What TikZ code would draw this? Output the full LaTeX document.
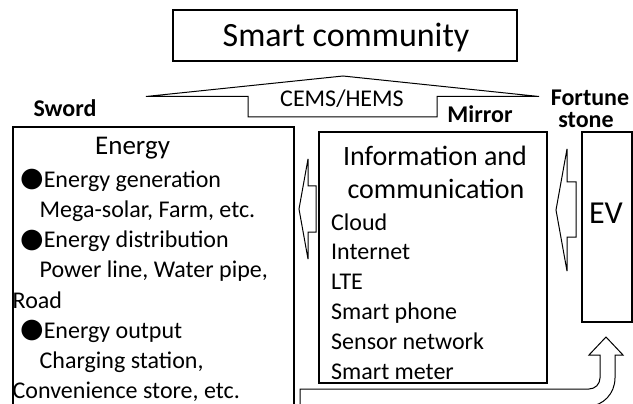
\documentclass[tikz,border=0pt]{standalone}
\usepackage{fontspec}
\setmainfont{Carlito}
\newfontfamily\bulfont{DejaVu Sans}
\newcommand{\bul}{{\bulfont\fontsize{27}{27}\selectfont\raisebox{0.5pt}{●}}}
\begin{document}
\begin{tikzpicture}[x=1pt,y=-1pt,
  box/.style={draw, line width=1.3pt, inner sep=0pt, outer sep=0pt},
  blockarrow/.style={draw, line width=1pt, fill=white},
  txt/.style={inner sep=0pt, anchor=base west, font=\fontsize{24}{24}\selectfont},
  ctxt/.style={inner sep=0pt, anchor=base},
  lbl/.style={inner sep=0pt, anchor=base, font=\bfseries\fontsize{24}{24}\selectfont}]
\useasboundingbox (0,0) rectangle (633,404);
\clip (0,0) rectangle (633,404);
% boxes
\node[box, line width=1.6pt, anchor=north west, minimum width=344pt, minimum height=51pt] (sc) at (173,10) {};
\node[box, anchor=north west, minimum width=281pt, minimum height=300pt] (energy) at (13,127) {};
\node[box, anchor=north west, minimum width=228pt, minimum height=251pt] (info) at (319,132) {};
\node[box, anchor=north west, minimum width=50pt, minimum height=190pt] (ev) at (582,132) {};
% titles
\node[ctxt, font=\fontsize{34}{34}\selectfont] (sct) at (346,47) {Smart community};
\node[lbl] (sword) at (65,117) {Sword};
\node[lbl] (mirror) at (480,123) {Mirror};
\node[lbl] (fortune) at (590,106) {Fortune};
\node[lbl] (stone) at (586,128) {stone};
% CEMS/HEMS arrow
\draw[blockarrow] (146,96.5) -- (343,76) -- (539,96.5) -- (437,96.5) -- (437,117) -- (248,117) -- (248,96.5) -- cycle;
\node[ctxt, font=\fontsize{24}{24}\selectfont] (cems) at (342,107) {CEMS/HEMS};
% Energy text
\node[txt, font=\fontsize{27}{27}\selectfont] (eh) at (95,155) {Energy};
\node[txt] (e1) at (20,187) {\bul Energy generation};
\node[txt] (e2) at (39.5,217.3) {Mega-solar, Farm, etc.};
\node[txt] (e3) at (20,247.6) {\bul Energy distribution};
\node[txt] (e4) at (39.5,277.9) {Power line, Water pipe,};
\node[txt] (e5) at (12.5,308.1) {Road};
\node[txt] (e6) at (20,338.4) {\bul Energy output};
\node[txt] (e7) at (39.5,368.7) {Charging station,};
\node[txt] (e8) at (12.5,398.5) {Convenience store, etc.};
% Info text
\node[ctxt, font=\fontsize{28}{28}\selectfont] (ih1) at (435,166) {Information and};
\node[ctxt, font=\fontsize{28}{28}\selectfont] (ih2) at (436,199) {communication};
\node[txt] (i1) at (331,230) {Cloud};
\node[txt] (i2) at (331,259.8) {Internet};
\node[txt] (i3) at (331,289.6) {LTE};
\node[txt] (i4) at (331,319.4) {Smart phone};
\node[txt] (i5) at (331,349.2) {Sensor network};
\node[txt] (i6) at (331,379) {Smart meter};
% EV
\node[ctxt, font=\fontsize{32}{32}\selectfont] (evt) at (606,223) {EV};
% arrow info -> energy
\draw[blockarrow] (299,209) -- (308,159) -- (308,186) -- (316,186) -- (316,232) -- (308,232) -- (308,259) -- cycle;
% arrow EV -> info
\draw[blockarrow] (556,210) -- (567,149) -- (567,182) -- (576,182) -- (576,237) -- (567,237) -- (567,271) -- cycle;
% bent arrow into EV
\draw[blockarrow] (606,337) -- (623,355) -- (615,355) -- (615,378)
  .. controls (615,393.5) and (603,406) .. (589,406) -- (300,406) -- (300,389) -- (589,389)
  .. controls (595.1,389) and (600,384.1) .. (600,378) -- (600,355) -- (589,355) -- cycle;
\end{tikzpicture}
\end{document}
